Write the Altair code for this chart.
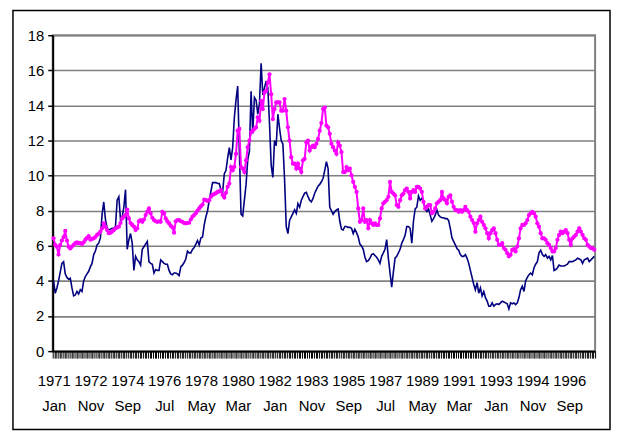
import altair as alt
import pandas as pd

# Monthly values, Jan 1971 .. Dec 1997 (one row per year)
short_rate = [
    4.0, 3.3, 3.6, 4.0, 4.5, 5.0, 5.1, 4.4, 4.2, 4.1, 4.15, 3.6,
    3.15, 3.2, 3.4, 3.25, 3.5, 3.4, 4.0, 4.25, 4.4, 4.55, 4.8, 5.0,
    5.5, 5.7, 6.05, 6.15, 6.45, 7.8, 8.5, 7.5, 7.0, 6.9, 6.95, 7.0,
    7.0, 7.1, 8.6, 8.8, 7.5, 7.65, 8.2, 9.2, 5.8, 6.35, 6.7, 6.15,
    4.6, 5.4, 5.2, 5.1, 4.9, 5.8, 5.95, 6.1, 6.25, 5.1, 5.0, 4.95,
    4.45, 4.65, 4.6, 4.6, 5.2, 5.1, 5.0, 4.95, 4.95, 4.6, 4.4, 4.35,
    4.45, 4.45, 4.4, 4.3, 4.8, 4.9, 5.05, 5.25, 5.7, 5.6, 5.6, 5.8,
    5.9, 6.1, 6.3, 6.05, 6.45, 6.5, 7.2, 7.65, 8.0, 8.6, 9.1, 9.6,
    9.6, 9.6, 9.55, 9.55, 9.2, 9.05, 10.1, 10.3, 11.0, 11.6, 10.9, 11.6,
    13.3, 14.3, 15.1, 11.4, 7.8, 7.7, 8.6, 9.5, 10.9, 11.4, 14.8, 12.4,
    14.45, 14.3, 13.5, 14.1, 16.4, 14.6, 15.0, 15.4, 15.0, 13.0, 10.6, 9.9,
    12.0, 11.7, 13.5, 12.7, 12.0, 11.8, 9.8, 7.1, 6.7, 7.45, 7.65, 7.85,
    8.05, 7.85, 8.4, 8.2, 8.6, 8.8, 9.0, 9.05, 8.8, 8.6, 8.5, 8.7,
    9.0, 9.2, 9.4, 9.5, 9.65, 9.85, 10.3, 10.8, 10.4, 8.2, 8.0, 7.8,
    7.95, 8.05, 8.1, 7.4, 6.95, 6.9, 7.1, 7.1, 7.05, 7.05, 7.0, 6.7,
    6.95, 6.75, 6.5, 6.1, 6.0, 5.8, 5.35, 5.1, 5.15, 5.3, 5.5, 5.55,
    5.45, 5.35, 5.2, 5.0, 5.4, 5.6, 5.8, 6.35, 5.3, 4.45, 3.65, 4.5,
    5.3, 5.4, 5.6, 5.8, 6.15, 6.35, 6.6, 7.1, 7.1, 7.0, 6.15, 7.4,
    8.1, 8.2, 8.85, 8.6, 8.7, 8.5, 8.1, 7.95, 8.1, 7.75, 7.4, 7.55,
    7.75, 8.05, 7.75, 7.65, 7.6, 7.6, 7.55, 7.55, 7.45, 7.0, 6.45, 6.25,
    6.05, 5.85, 5.75, 5.5, 5.4, 5.4, 5.5, 5.3, 5.0, 4.6, 4.2, 3.8,
    3.5, 3.9, 3.3, 3.6, 3.15, 3.4, 3.05, 2.85, 2.56, 2.56, 2.75, 2.56,
    2.66, 2.7, 2.66, 2.75, 2.85, 2.8, 2.75, 2.7, 2.4, 2.75, 2.7, 2.75,
    2.65, 2.75, 3.05, 3.5, 3.7, 3.4, 4.0, 4.2, 4.35, 4.45, 4.35, 4.75,
    4.95, 5.1, 5.6, 5.75, 5.5, 5.4, 5.5, 5.3, 5.4, 5.2, 5.45, 4.6,
    4.65, 4.75, 4.9, 4.85, 4.85, 4.85, 4.9, 4.95, 5.1, 5.1, 5.1, 5.15,
    5.2, 5.3, 5.25, 5.2, 5.0, 5.2, 5.25, 5.3, 5.1, 5.2, 5.3, 5.4,
]

long_rate = [
    6.43, 6.05, 5.95, 5.5, 6.05, 6.3, 6.5, 6.85, 6.3, 5.95, 5.85, 5.95,
    6.05, 6.15, 6.2, 6.15, 6.15, 6.1, 6.2, 6.35, 6.45, 6.55, 6.35, 6.4,
    6.43, 6.5, 6.62, 6.7, 6.81, 7.0, 7.28, 7.09, 6.9, 6.72, 6.75, 6.81,
    6.9, 7.0, 7.05, 7.09, 7.3, 7.56, 7.65, 7.75, 8.07, 7.56, 7.3, 7.19,
    7.1, 6.9, 7.0, 7.4, 7.47, 7.37, 7.5, 7.75, 7.95, 8.13, 7.85, 7.6,
    7.47, 7.4, 7.37, 7.4, 7.37, 7.94, 7.85, 7.56, 7.4, 7.28, 7.15, 7.05,
    6.75, 7.4, 7.47, 7.47, 7.4, 7.37, 7.3, 7.28, 7.3, 7.32, 7.5, 7.66,
    7.75, 7.85, 8.0, 8.13, 8.25, 8.35, 8.64, 8.6, 8.56, 8.6, 8.8, 8.9,
    8.95, 9.0, 9.07, 9.1, 9.17, 8.9, 8.75, 9.02, 9.36, 9.55, 10.49, 10.3,
    10.5, 11.24, 12.56, 12.66, 10.49, 10.4, 10.2, 10.87, 11.62, 12.0, 12.47, 12.56,
    12.66, 12.75, 13.32, 13.13, 14.26, 13.79, 14.73, 14.83, 15.3, 15.77, 14.64, 13.22,
    13.79, 14.17, 14.17, 14.17, 13.7, 13.7, 14.36, 13.7, 12.75, 12.0, 11.05, 10.68,
    10.68, 10.4, 10.68, 10.4, 10.2, 10.87, 10.96, 11.9, 12.0, 11.43, 11.62, 11.71,
    11.62, 11.81, 12.09, 12.56, 13.0, 13.79, 13.88, 12.85, 12.75, 12.38, 11.81, 11.62,
    11.43, 11.24, 11.9, 11.71, 11.34, 10.2, 10.2, 10.49, 10.3, 10.4, 10.02, 9.64,
    9.36, 9.07, 8.13, 7.37, 7.47, 8.13, 7.37, 7.47, 7.0, 7.47, 7.28, 7.19,
    7.28, 7.19, 7.19, 7.56, 8.13, 8.42, 8.51, 8.6, 8.79, 9.64, 9.07, 8.98,
    8.88, 8.32, 8.22, 8.6, 8.88, 8.98, 9.17, 9.26, 9.07, 8.7, 9.07, 9.17,
    9.07, 9.36, 9.36, 9.26, 9.07, 8.51, 8.13, 8.22, 8.32, 8.32, 7.85, 7.94,
    8.13, 8.42, 8.51, 8.6, 9.07, 8.7, 8.6, 8.42, 8.79, 8.88, 8.51, 8.22,
    8.04, 8.04, 7.94, 8.04, 7.94, 8.04, 8.22, 8.04, 7.94, 7.66, 7.47, 7.3,
    6.8, 7.28, 7.47, 7.66, 7.37, 7.19, 7.0, 6.72, 6.43, 6.72, 6.9, 7.0,
    6.72, 6.34, 6.06, 6.06, 6.15, 5.87, 5.77, 5.58, 5.4, 5.49, 5.77, 5.81,
    5.68, 5.96, 6.43, 7.0, 7.19, 7.19, 7.28, 7.47, 7.75, 7.85, 7.94, 7.85,
    7.66, 7.28, 7.09, 6.72, 6.43, 6.43, 6.34, 6.15, 6.06, 5.87, 5.68, 5.68,
    5.87, 6.34, 6.62, 6.81, 6.72, 6.81, 6.9, 6.72, 6.34, 6.06, 6.43, 6.53,
    6.62, 6.81, 7.0, 6.81, 6.62, 6.43, 6.34, 6.06, 5.96, 5.87, 5.87, 5.77,
]

label_years = ["1971", "1972", "1974", "1976", "1978", "1980", "1982", "1983",
               "1985", "1987", "1989", "1991", "1993", "1994", "1996"]
label_months = ["Jan", "Nov", "Sep", "Jul", "May", "Mar", "Jan", "Nov",
                "Sep", "Jul", "May", "Mar", "Jan", "Nov", "Sep"]
label_step = 22
y_ticks = [0, 2, 4, 6, 8, 10, 12, 14, 16, 18]

n = len(short_rate)
assert n == 324 and len(long_rate) == 324

df_short = pd.DataFrame({"m": list(range(n)), "v": short_rate})
df_long = pd.DataFrame({"m": list(range(n)), "v": long_rate})

# category boundaries carry the dense tick marks; labelled ones get two-line text
tick_vals = [k - 0.5 for k in range(n + 1)]
expr = "''"
for j in reversed(range(len(label_years))):
    k = j * label_step - 0.5
    expr = f"datum.value == {k} ? ['{label_years[j]}', '{label_months[j]}'] : ({expr})"

FONT = "Liberation Sans"

x_enc = alt.X(
    "m:Q",
    title=None,
    scale=alt.Scale(domain=[-0.5, n - 0.5], nice=False, zero=False),
    axis=alt.Axis(
        values=tick_vals, labelExpr=expr, labelOverlap=False, labelFlush=False,
        labelBound=False, grid=False, tickSize=7, tickColor="black", tickWidth=1,
        domainColor="black", domainWidth=2, labelFont=FONT, labelFontSize=15,
        labelColor="black", labelPadding=16, labelLineHeight=25, labelOffset=1,
        labelAngle=0,
    ),
)
y_enc = alt.Y(
    "v:Q",
    title=None,
    scale=alt.Scale(domain=[0, 18], nice=False),
    axis=alt.Axis(
        values=y_ticks, grid=True, gridColor="#808080", gridWidth=1.6,
        tickSize=5, tickColor="black", tickWidth=1.5, domainColor="black",
        domainWidth=2, labelFont=FONT, labelFontSize=15, labelColor="black",
        labelPadding=4,
    ),
)

short_line = alt.Chart(df_short).mark_line(color="#000080", strokeWidth=1.6).encode(x=x_enc, y=y_enc)
long_line = alt.Chart(df_long).mark_line(
    color="#FF00FF", strokeWidth=2,
    point=alt.OverlayMarkDef(filled=True, color="#FF00FF", size=18),
).encode(x=x_enc, y=y_enc)

frame = alt.Chart(pd.DataFrame({"a": [0]})).mark_rect(
    fill="transparent", stroke="black", strokeWidth=1.5
).encode(x=alt.value(-40), x2=alt.value(561), y=alt.value(-25), y2=alt.value(397))

chart = alt.layer(short_line, long_line, frame).properties(
    width=546, height=318,
    padding={"left": 45, "top": 26, "right": 16, "bottom": 81},
    autosize=alt.AutoSizeParams(type="none"),
    background="white",
).configure_view(stroke="#808080", strokeWidth=2)

chart.save("out.html", embed_options={"renderer": "svg", "actions": False})
